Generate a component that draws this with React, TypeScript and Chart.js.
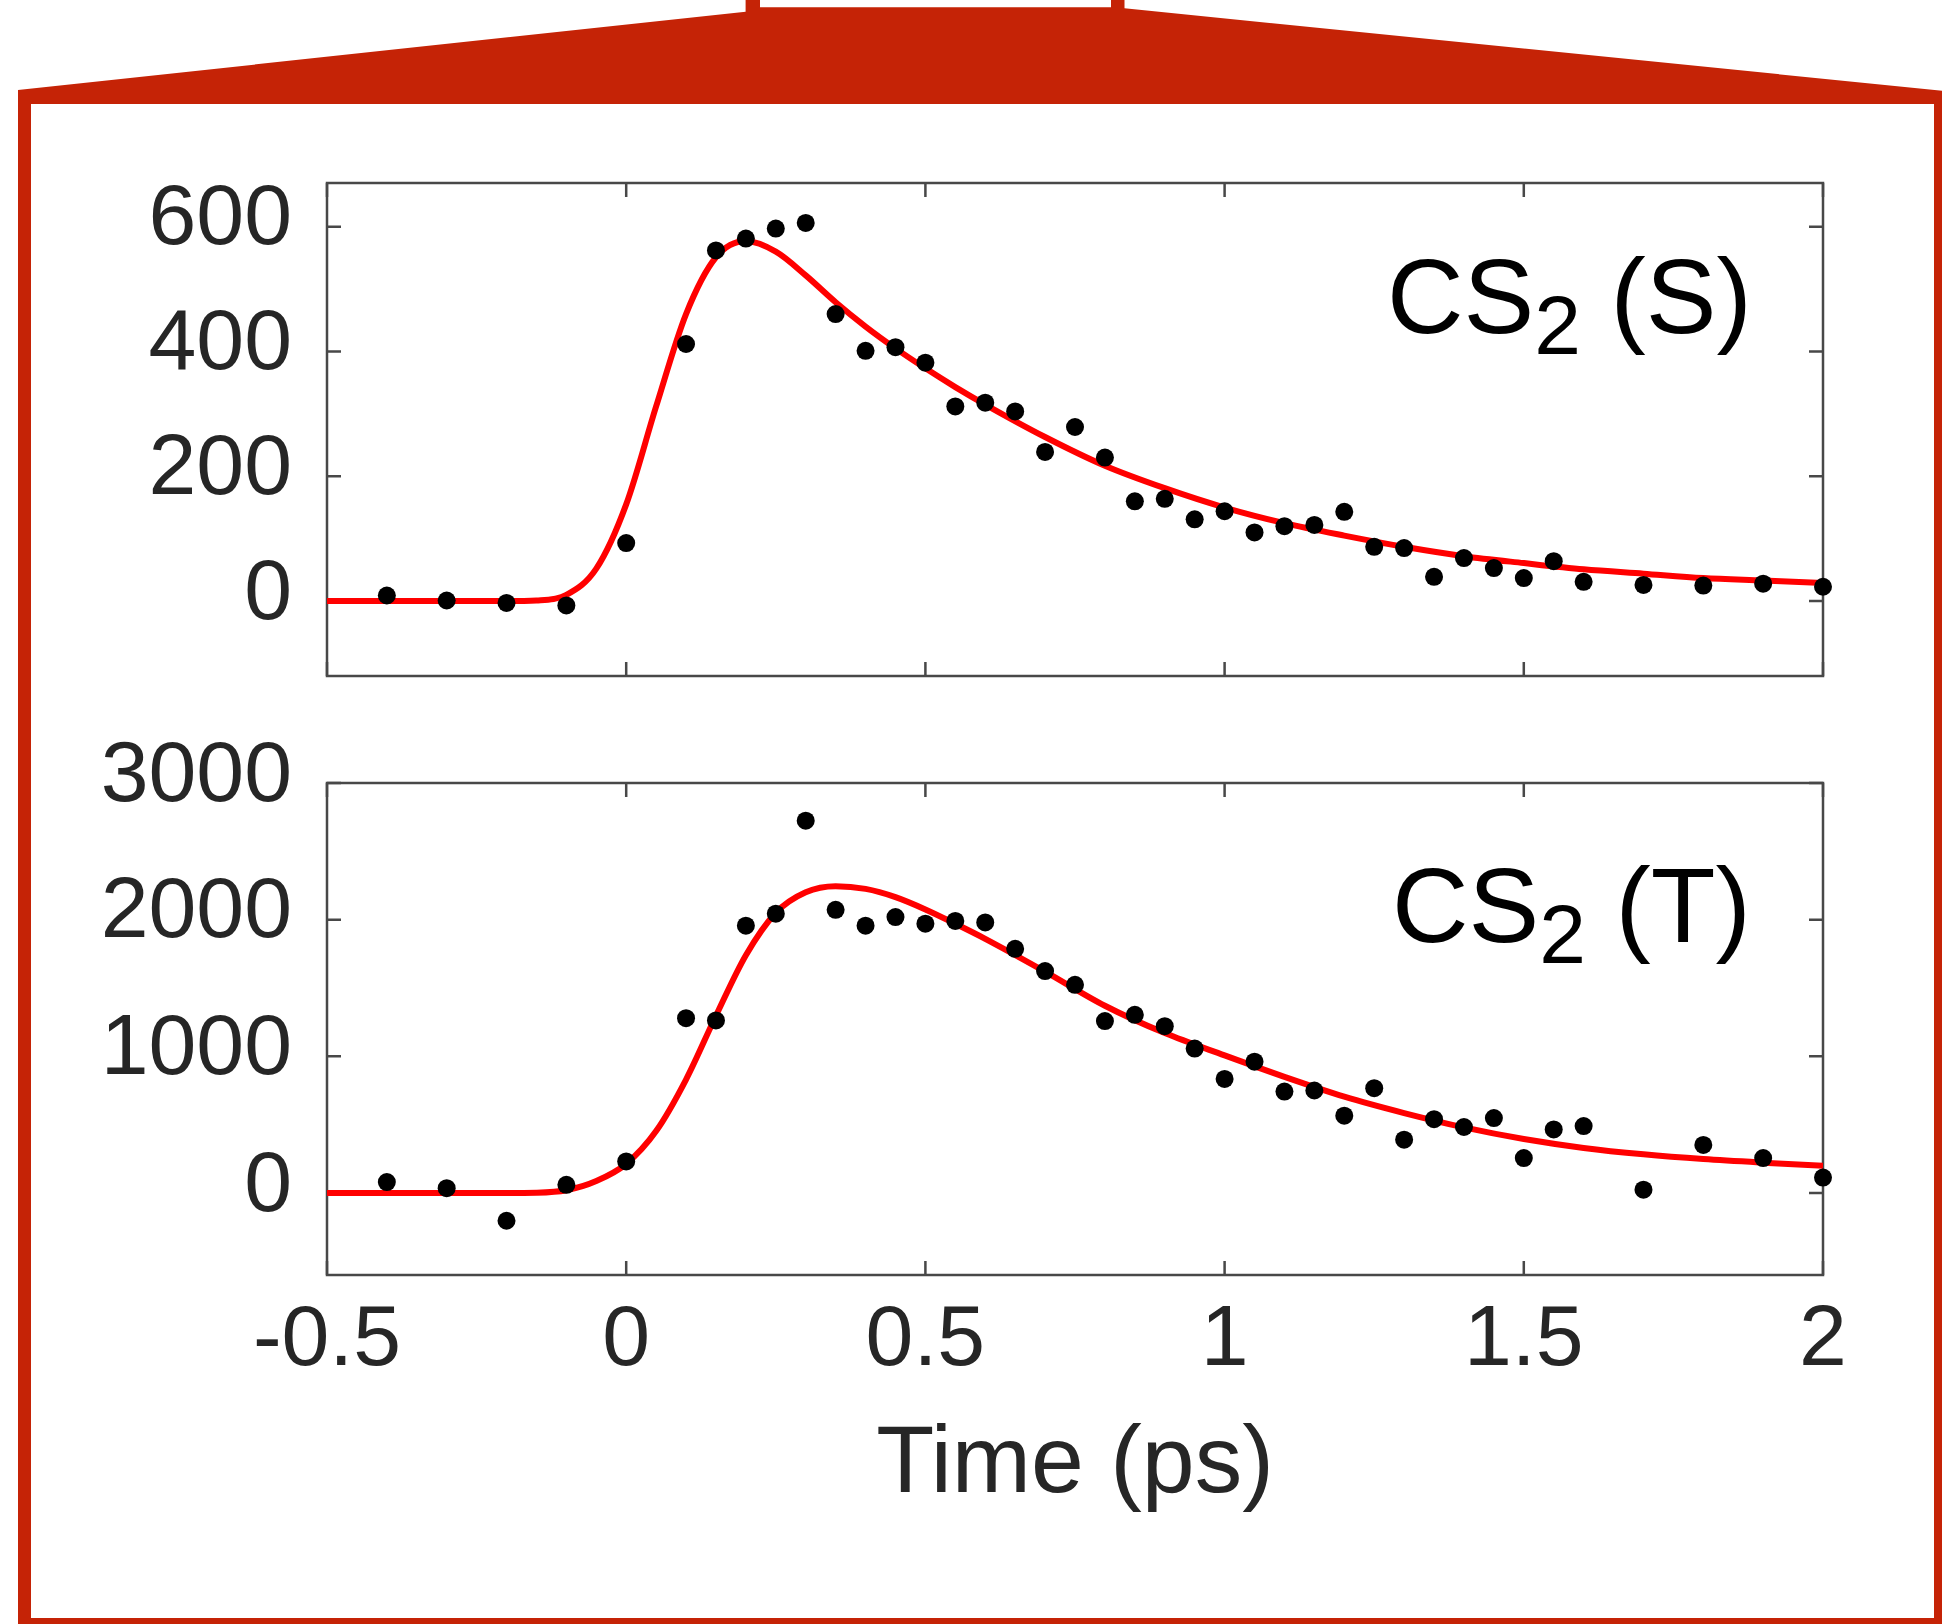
import React, { useEffect, useRef } from 'react';
import { Chart, registerables } from 'chart.js';

Chart.register(...registerables);

// ---------- Data ----------
const TIME_POINTS = [
  -0.4, -0.3, -0.2, -0.1, 0, 0.1, 0.15, 0.2, 0.25, 0.3, 0.35, 0.4, 0.45, 0.5, 0.55, 0.6,
  0.65, 0.7, 0.75, 0.8, 0.85, 0.9, 0.95, 1.0, 1.05, 1.1, 1.15, 1.2, 1.25, 1.3, 1.35, 1.4,
  1.45, 1.5, 1.55, 1.6, 1.7, 1.8, 1.9, 2.0,
];
const SIGNAL_S = [
  9, 1, -3, -7, 93, 412, 562, 581, 597, 606, 460, 401, 407, 382, 312, 318,
  304, 239, 279, 230, 160, 164, 131, 144, 110, 120, 122, 143, 87, 85, 39, 69,
  53, 37, 64, 31, 26, 25, 28, 23,
];
const SIGNAL_T = [
  80, 35, -203, 60, 231, 1279, 1263, 1956, 2044, 2724, 2072, 1956, 2019, 1971, 1991, 1980,
  1787, 1624, 1523, 1258, 1304, 1221, 1057, 835, 961, 742, 750, 566, 767, 390, 540, 483,
  548, 256, 465, 490, 24, 352, 256, 113,
];

const TIME_FIT = [
  -0.5, -0.4, -0.3, -0.2, -0.15, -0.1, -0.05, 0, 0.05, 0.1, 0.15, 0.2, 0.25, 0.3, 0.35, 0.4,
  0.45, 0.5, 0.55, 0.6, 0.7, 0.8, 0.9, 1.0, 1.1, 1.2, 1.3, 1.4, 1.5, 1.6, 1.7, 1.8, 1.9, 2.0,
];
const FIT_S = [
  0, 0, 0, 0, 1, 10, 52, 155, 312, 460, 551, 577, 560, 522, 479, 440,
  405, 373, 343, 315, 263, 217, 181, 150, 125, 105, 87, 72, 61, 51, 44, 37, 33, 29,
];
const FIT_T = [
  0, 0, 0, 0, 2, 20, 87, 213, 453, 830, 1297, 1740, 2050, 2200, 2245, 2225,
  2165, 2075, 1970, 1860, 1620, 1370, 1170, 1007, 850, 705, 585, 480, 395, 330, 283, 248, 222, 200,
];

const X_TICKS = [-0.5, 0, 0.5, 1, 1.5, 2];
const Y_TICKS_S = [0, 200, 400, 600];
const Y_TICKS_T = [0, 1000, 2000, 3000];
const X_TITLE = 'Time (ps)';
const LABEL_S = ['CS', '2', ' (S)'];
const LABEL_T = ['CS', '2', ' (T)'];

// ---------- Style ----------
const W = 1942;
const H = 1624;
const FONT = "'Liberation Sans', Arial, Helvetica, sans-serif";
const TEXT_COLOR = '#262626';
const AXIS_COLOR = '#484848';
const FRAME_RED = '#C52306';
const TICK_LEN = 14;

const boxPlugin = (label: string[], offX: number, offY: number) => ({
  id: 'matlabBox',
  beforeDatasetsDraw(chart: any) {
    const { ctx, chartArea } = chart;
    const { left, right, top, bottom } = chartArea;
    const xs = chart.scales.x;
    const ys = chart.scales.y;
    ctx.save();
    ctx.strokeStyle = AXIS_COLOR;
    ctx.lineWidth = 2.5;
    ctx.strokeRect(left, top, right - left, bottom - top);
    ctx.beginPath();
    for (const t of xs.ticks) {
      const px = xs.getPixelForValue(t.value);
      ctx.moveTo(px, bottom);
      ctx.lineTo(px, bottom - TICK_LEN);
      ctx.moveTo(px, top);
      ctx.lineTo(px, top + TICK_LEN);
    }
    for (const t of ys.ticks) {
      const py = ys.getPixelForValue(t.value);
      ctx.moveTo(left, py);
      ctx.lineTo(left + TICK_LEN, py);
      ctx.moveTo(right, py);
      ctx.lineTo(right - TICK_LEN, py);
    }
    ctx.stroke();
    ctx.restore();
  },
  afterDraw(chart: any) {
    const { ctx, chartArea } = chart;
    ctx.save();
    ctx.fillStyle = '#000';
    ctx.textAlign = 'left';
    ctx.textBaseline = 'alphabetic';
    let x = chartArea.left + offX;
    const y = chartArea.top + offY;
    ctx.font = `106px ${FONT}`;
    ctx.fillText(label[0], x, y);
    x += ctx.measureText(label[0]).width;
    ctx.font = `84px ${FONT}`;
    ctx.fillText(label[1], x, y + 21);
    x += ctx.measureText(label[1]).width;
    ctx.font = `106px ${FONT}`;
    ctx.fillText(label[2], x, y);
    ctx.restore();
  },
});

function makeConfig(
  times: number[], values: number[], fitValues: number[], yMin: number, yMax: number,
  yTicks: number[], showX: boolean, padding: any, xHeight: number, label: string[], offX: number, offY: number,
): any {
  return {
    type: 'line',
    data: {
      datasets: [
        {
          label: 'data',
          data: times.map((t, i) => ({ x: t, y: values[i] })),
          showLine: false,
          pointRadius: 9,
          pointBackgroundColor: '#000',
          pointBorderColor: '#000',
          pointBorderWidth: 0,
          clip: false,
          order: 0,
        },
        {
          label: 'fit',
          data: TIME_FIT.map((t, i) => ({ x: t, y: fitValues[i] })),
          borderColor: '#ff0000',
          borderWidth: 6,
          pointRadius: 0,
          cubicInterpolationMode: 'monotone',
          fill: false,
          order: 1,
        },
      ],
    },
    options: {
      responsive: false,
      animation: false,
      devicePixelRatio: 1,
      layout: { padding },
      plugins: { legend: { display: false }, tooltip: { enabled: false } },
      scales: {
        x: {
          type: 'linear',
          min: -0.5,
          max: 2,
          grid: { display: false, drawTicks: false },
          border: { display: false },
          afterBuildTicks: (s: any) => { s.ticks = X_TICKS.map((v) => ({ value: v })); },
          afterFit: (s: any) => { s.height = xHeight; },
          ticks: {
            display: showX,
            autoSkip: false,
            maxRotation: 0,
            minRotation: 0,
            padding: 15,
            color: TEXT_COLOR,
            font: { family: FONT, size: 86 },
            callback: (v: any) => String(v),
          },
          title: {
            display: showX,
            text: X_TITLE,
            color: TEXT_COLOR,
            font: { family: FONT, size: 95 },
            padding: { top: 0, bottom: 0 },
          },
        },
        y: {
          type: 'linear',
          min: yMin,
          max: yMax,
          grid: { display: false, drawTicks: false },
          border: { display: false },
          afterBuildTicks: (s: any) => { s.ticks = yTicks.map((v) => ({ value: v })); },
          afterFit: (s: any) => { s.width = 327; },
          ticks: {
            padding: 35,
            labelOffset: -6,
            color: TEXT_COLOR,
            font: { family: FONT, size: 86 },
            callback: (v: any) => String(v),
          },
        },
      },
    },
    plugins: [boxPlugin(label, offX, offY)],
  };
}

function Panel({ config }: { config: any }) {
  const ref = useRef<HTMLCanvasElement | null>(null);
  useEffect(() => {
    if (!ref.current) return;
    const chart = new Chart(ref.current, config);
    return () => chart.destroy();
  }, [config]);
  return (
    <canvas
      ref={ref}
      width={W}
      height={H}
      style={{ position: 'absolute', left: 0, top: 0, width: W, height: H }}
    />
  );
}

const CONFIG_S = makeConfig(
  TIME_POINTS, SIGNAL_S, FIT_S, -120, 670, Y_TICKS_S, false,
  { left: 0, top: 183, right: 119, bottom: 948 }, 0, LABEL_S, 1060, 150,
);
const CONFIG_T = makeConfig(
  TIME_POINTS, SIGNAL_T, FIT_T, -600, 3000, Y_TICKS_T, true,
  { left: 0, top: 783, right: 119, bottom: 101 }, 248, LABEL_T, 1065, 159,
);

export default function App() {
  useEffect(() => {
    document.body.style.overflow = 'hidden';
  }, []);
  return (
    <div style={{ position: 'absolute', left: 0, top: 0, width: W, height: H, background: '#fff', overflow: 'hidden' }}>
      <svg width={W} height={H} style={{ position: 'absolute', left: 0, top: 0 }}>
        <polygon
          points="18,90 745.6,11.7 745.6,0 760,0 760,7.3 1111,7.3 1111,0 1124.5,0 1124.5,8.3 1942,90.7 1942,1624 18,1624"
          fill={FRAME_RED}
        />
        <rect x={31} y={104} width={1903} height={1514} fill="#fff" />
      </svg>
      <Panel config={CONFIG_S} />
      <Panel config={CONFIG_T} />
    </div>
  );
}
